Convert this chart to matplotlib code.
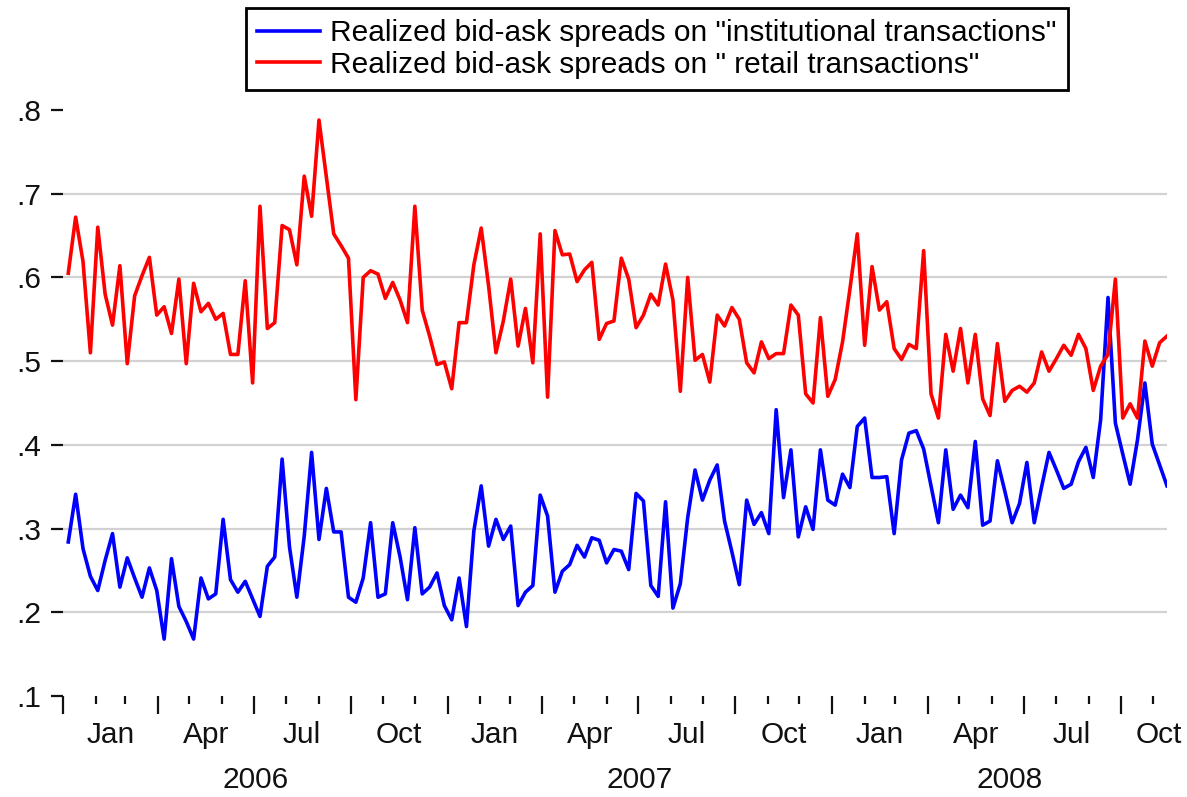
import matplotlib
matplotlib.use("Agg")
import matplotlib.pyplot as plt
import matplotlib.dates as mdates
import pandas as pd

# weekly observations, first one on 6 Jan 2006
start_date = "2006-01-06"

institutional = [
    0.284, 0.341, 0.276, 0.243, 0.226, 0.262, 0.294, 0.230, 0.265, 0.241,
    0.218, 0.253, 0.226, 0.168, 0.264, 0.207, 0.189, 0.168, 0.241, 0.216,
    0.222, 0.311, 0.239, 0.224, 0.237, 0.216, 0.195, 0.255, 0.266, 0.383,
    0.278, 0.218, 0.291, 0.391, 0.287, 0.348, 0.296, 0.296, 0.218, 0.212,
    0.241, 0.307, 0.218, 0.222, 0.307, 0.266, 0.215, 0.301, 0.222, 0.230,
    0.247, 0.208, 0.191, 0.241, 0.183, 0.297, 0.351, 0.279, 0.311, 0.287,
    0.303, 0.208, 0.224, 0.232, 0.340, 0.315, 0.224, 0.249, 0.257, 0.280,
    0.266, 0.289, 0.286, 0.259, 0.275, 0.273, 0.251, 0.342, 0.333, 0.232,
    0.219, 0.332, 0.205, 0.234, 0.313, 0.370, 0.334, 0.358, 0.376, 0.309,
    0.272, 0.233, 0.334, 0.305, 0.319, 0.294, 0.442, 0.337, 0.394, 0.290,
    0.326, 0.299, 0.394, 0.334, 0.328, 0.365, 0.349, 0.422, 0.432, 0.361,
    0.361, 0.362, 0.294, 0.382, 0.414, 0.417, 0.395, 0.351, 0.307, 0.394,
    0.323, 0.340, 0.325, 0.404, 0.304, 0.309, 0.381, 0.345, 0.307, 0.330,
    0.379, 0.307, 0.350, 0.391, 0.370, 0.348, 0.353, 0.380, 0.397, 0.361,
    0.430, 0.576, 0.426, 0.389, 0.353, 0.406, 0.474, 0.401, 0.376, 0.351,
]

retail = [
    0.605, 0.672, 0.619, 0.510, 0.660, 0.580, 0.543, 0.614, 0.497, 0.578,
    0.602, 0.624, 0.555, 0.565, 0.533, 0.598, 0.497, 0.593, 0.559, 0.569,
    0.550, 0.557, 0.508, 0.508, 0.596, 0.474, 0.685, 0.539, 0.546, 0.662,
    0.657, 0.615, 0.721, 0.673, 0.788, 0.720, 0.652, 0.638, 0.623, 0.454,
    0.600, 0.608, 0.604, 0.575, 0.594, 0.573, 0.546, 0.685, 0.561, 0.530,
    0.496, 0.499, 0.467, 0.546, 0.546, 0.615, 0.659, 0.590, 0.510, 0.548,
    0.598, 0.518, 0.563, 0.498, 0.652, 0.457, 0.656, 0.627, 0.628, 0.595,
    0.609, 0.618, 0.526, 0.545, 0.548, 0.623, 0.598, 0.540, 0.555, 0.580,
    0.567, 0.616, 0.573, 0.464, 0.600, 0.501, 0.508, 0.475, 0.555, 0.542,
    0.564, 0.550, 0.498, 0.486, 0.523, 0.503, 0.509, 0.509, 0.567, 0.555,
    0.461, 0.450, 0.552, 0.458, 0.478, 0.523, 0.586, 0.652, 0.519, 0.613,
    0.561, 0.571, 0.515, 0.502, 0.520, 0.515, 0.632, 0.461, 0.432, 0.532,
    0.488, 0.539, 0.474, 0.532, 0.455, 0.435, 0.521, 0.452, 0.465, 0.470,
    0.463, 0.474, 0.511, 0.488, 0.503, 0.519, 0.507, 0.532, 0.515, 0.465,
    0.494, 0.508, 0.598, 0.432, 0.449, 0.432, 0.524, 0.494, 0.522, 0.530,
]

quarter_names = ["Jan", "Apr", "Jul", "Oct"]
years = [2006, 2007, 2008]
y_ticks = [0.1, 0.2, 0.3, 0.4, 0.5, 0.6, 0.7, 0.8]

label_inst = 'Realized bid-ask spreads on "institutional transactions"'
label_retail = 'Realized bid-ask spreads on " retail transactions"'

dates = pd.date_range(start_date, periods=len(retail), freq="7D")
x_start = pd.Timestamp("2006-01-01")
x_end = pd.Timestamp("2008-11-14")

plt.rcParams["font.family"] = ["Liberation Sans", "DejaVu Sans"]
plt.rcParams["font.size"] = 21.5

W, H = 1187, 797
fig = plt.figure(figsize=(W / 100, H / 100), dpi=100)
ax = fig.add_axes([63 / W, 1 - 696 / H, (1167 - 63) / W, (696 - 110) / H])

ax.plot(dates, institutional, color="#0000ff", lw=2.6, label=label_inst)
ax.plot(dates, retail, color="#ff0000", lw=2.6, label=label_retail)

ax.set_xlim(x_start, x_end)
ax.set_ylim(0.1, 0.8)
for s in ax.spines.values():
    s.set_visible(False)

# y axis: ".1" style labels, grey grid only on inner ticks
ax.set_yticks(y_ticks)
ax.set_yticklabels([("%.1f" % v).lstrip("0") for v in y_ticks])
ax.tick_params(axis="y", length=8.5, width=1.6, pad=7, colors="#111111")
ax.yaxis.grid(True, color="#d2d2d2", lw=1.6)
ax.set_axisbelow(True)
gl = ax.yaxis.get_gridlines()
gl[0].set_visible(False)
gl[-1].set_visible(False)

# x axis: long ticks at quarter starts, short ticks at months
ax.xaxis.set_major_locator(mdates.MonthLocator(bymonth=[1, 4, 7, 10]))
ax.xaxis.set_minor_locator(mdates.MonthLocator())
ax.tick_params(axis="x", which="major", length=13, width=1.6, labelbottom=False, color="#111111")
ax.tick_params(axis="x", which="minor", length=6, width=1.6, color="#111111")

xtr = ax.get_xaxis_transform()
for yr in years:
    for q, name in enumerate(quarter_names):
        qs = pd.Timestamp(yr, 3 * q + 1, 1)
        if qs >= x_end:
            continue
        qe = qs + pd.DateOffset(months=3)
        mid = qs + (qe - qs) / 2
        if mid > x_end:
            mid = x_end - pd.Timedelta(days=8)
        ax.text(mid, -0.066, name, transform=xtr, ha="center", va="center",
                color="#111111")
    ys = pd.Timestamp(yr, 1, 1)
    ye = min(pd.Timestamp(yr + 1, 1, 1), x_end + pd.Timedelta(days=20))
    ax.text(ys + (ye - ys) / 2, -0.143, str(yr), transform=xtr, ha="center",
            va="center", color="#111111")

leg = fig.legend(loc="upper center", bbox_to_anchor=(657 / W, 1 - 8 / H),
                 frameon=True, fancybox=False, edgecolor="black", framealpha=1,
                 handlelength=2.1, handletextpad=0.35, labelspacing=0.12,
                 borderpad=0.38, borderaxespad=0)
leg.get_frame().set_linewidth(2)

fig.savefig("out.png", dpi=100)
